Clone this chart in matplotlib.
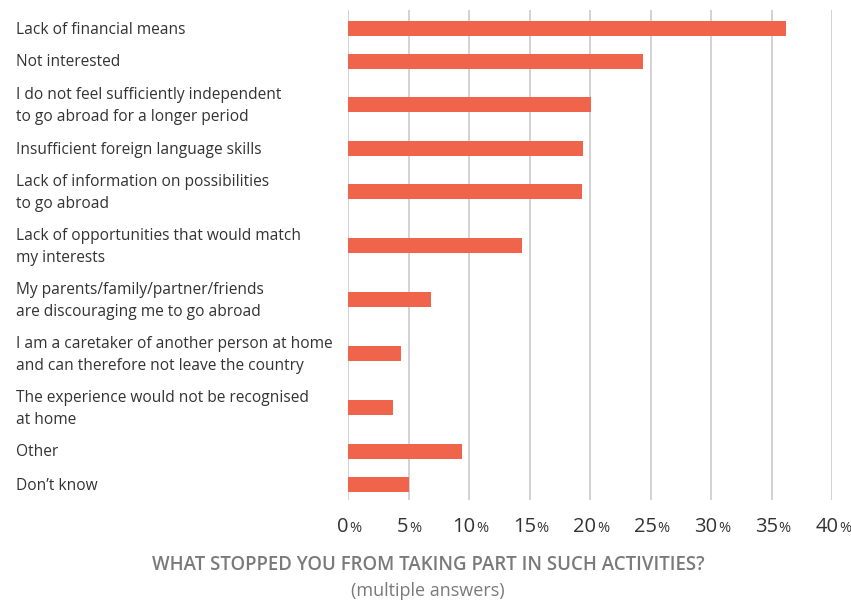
import matplotlib.pyplot as plt
from matplotlib import transforms

plt.rcParams['font.family'] = ['Open Sans', 'DejaVu Sans']

# Data
labels = [
    'Lack of financial means',
    'Not interested',
    'I do not feel sufficiently independent\nto go abroad for a longer period',
    'Insufficient foreign language skills',
    'Lack of information on possibilities\nto go abroad',
    'Lack of opportunities that would match\nmy interests',
    'My parents/family/partner/friends\nare discouraging me to go abroad',
    'I am a caretaker of another person at home\nand can therefore not leave the country',
    'The experience would not be recognised\nat home',
    'Other',
    'Don\u2019t know',
]
values = [36.2, 24.4, 20.1, 19.4, 19.3, 14.4, 6.9, 4.4, 3.7, 9.4, 5.0]
ticks = [0, 5, 10, 15, 20, 25, 30, 35, 40]

bar_color = '#F0644B'
text_color = '#333333'
grid_color = '#CFCFD3'

# row heights depend on number of label lines
row_h = [33 if '\n' not in s else 54 for s in labels]
ypos = []
y = 18
for i, h in enumerate(row_h):
    if i > 0:
        y += (row_h[i - 1] + h) / 2
    ypos.append(y)

W, H = 851, 601
fig = plt.figure(figsize=(W / 100, H / 100), dpi=100)
ax = fig.add_axes([348 / W, 1 - 500 / H, (832 - 348) / W, 490 / H])

for t in ticks:
    ax.axvline(t, color=grid_color, lw=1.3, zorder=0)
ax.barh(ypos, values, height=15, color=bar_color, zorder=2)

ax.set_xlim(0, 40)
ax.set_ylim(490, 0)
ax.set_xticks([])
ax.set_yticks([])
for s in ax.spines.values():
    s.set_visible(False)

# category labels
lab_tr = transforms.blended_transform_factory(fig.transFigure, ax.transData)
for lab, yy in zip(labels, ypos):
    ax.text(16 / W, yy + 1.5, lab, transform=lab_tr,
            ha='left', va='center', fontsize=11.2, color=text_color, linespacing=1.5)

# tick labels: large number, small percent sign
tr = transforms.blended_transform_factory(ax.transData, fig.transFigure)
for t in ticks:
    s = str(t)
    d = (len(s) * 12.5 - 12) / 2
    ax.annotate(s, xy=(t, 1 - 527 / H), xycoords=tr, xytext=(d, 0), textcoords='offset pixels',
                ha='right', va='center', fontsize=14.5, color=text_color, annotation_clip=False)
    ax.annotate('%', xy=(t, 1 - 529 / H), xycoords=tr, xytext=(d + 0.5, 0), textcoords='offset pixels',
                ha='left', va='center', fontsize=10.5, color=text_color, annotation_clip=False)

fig.text(428 / W, 1 - 565 / H, 'WHAT STOPPED YOU FROM TAKING PART IN SUCH ACTIVITIES?',
         ha='center', va='center', fontsize=13.4, fontweight=600, color='#7A7A7A')
fig.text(428 / W, 1 - 591 / H, '(multiple answers)',
         ha='center', va='center', fontsize=13, color='#7A7A7A')

fig.savefig('out.png', dpi=100)
